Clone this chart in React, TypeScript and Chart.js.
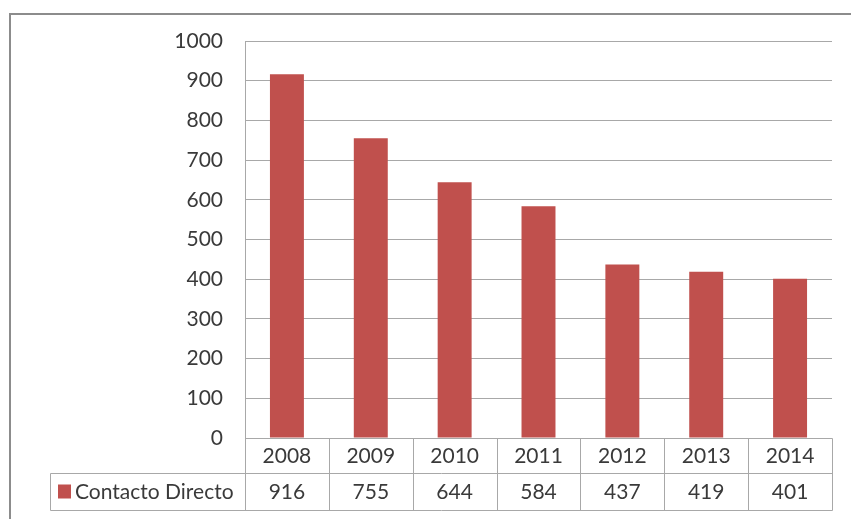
import { useEffect, useRef } from 'react';
import { Chart, registerables } from 'chart.js';

Chart.register(...registerables);

const categories = ['2008', '2009', '2010', '2011', '2012', '2013', '2014'];
const seriesName = 'Contacto Directo';
const values = [916, 755, 644, 584, 437, 419, 401];
const yMin = 0;
const yMax = 1000;
const yStep = 100;

const FONT = 'Lato, "Liberation Sans", sans-serif';
const FONT_SIZE = 21;
const TEXT = '#3a3a3a';
const GRID = '#a8a8a8';
const BAR = '#C0504D';
const FRAME = '#8c8c8c';

const tablePlugin = {
  id: 'dataTable',
  beforeDraw(chart: any) {
    const { ctx } = chart;
    ctx.save();
    ctx.fillStyle = '#ffffff';
    ctx.fillRect(0, 0, chart.width, chart.height);
    ctx.strokeStyle = FRAME;
    ctx.lineWidth = 2;
    ctx.beginPath();
    ctx.moveTo(10, chart.height + 5);
    ctx.lineTo(10, 14);
    ctx.lineTo(chart.width + 5, 14);
    ctx.stroke();
    ctx.restore();
  },
  afterDraw(chart: any) {
    const { ctx, chartArea, scales } = chart;
    const xs = scales.x;
    const n = categories.length;
    const colW = (chartArea.right - chartArea.left) / n;
    const r0 = chartArea.bottom;
    const r1 = r0 + 35;
    const r2 = r1 + 37;
    const labelLeft = 50;
    ctx.save();
    ctx.strokeStyle = GRID;
    ctx.lineWidth = 1;
    const line = (x1: number, y1: number, x2: number, y2: number) => {
      ctx.beginPath();
      ctx.moveTo(Math.round(x1) + 0.5, Math.round(y1) + 0.5);
      ctx.lineTo(Math.round(x2) + 0.5, Math.round(y2) + 0.5);
      ctx.stroke();
    };
    line(chartArea.left, r0, chartArea.right, r0);
    line(labelLeft, r1, chartArea.right, r1);
    line(labelLeft, r2, chartArea.right, r2);
    line(labelLeft, r1, labelLeft, r2);
    for (let i = 0; i < n; i++) {
      const c = xs.getPixelForValue(i);
      line(c - colW / 2, r0, c - colW / 2, r2);
    }
    line(chartArea.right, r0, chartArea.right, r2);

    ctx.fillStyle = TEXT;
    ctx.font = `${FONT_SIZE}px ${FONT}`;
    ctx.textAlign = 'center';
    ctx.textBaseline = 'middle';
    for (let i = 0; i < n; i++) {
      const c = xs.getPixelForValue(i);
      ctx.fillText(categories[i], c, (r0 + r1) / 2 + 1);
      ctx.fillText(String(values[i]), c, (r1 + r2) / 2 + 1);
    }
    ctx.fillStyle = BAR;
    ctx.fillRect(58, (r1 + r2) / 2 - 7, 13, 14);
    ctx.fillStyle = TEXT;
    ctx.textAlign = 'left';
    ctx.fillText(seriesName, 75, (r1 + r2) / 2 + 1);
    ctx.restore();
  },
};

export default function App() {
  const ref = useRef<HTMLCanvasElement | null>(null);
  useEffect(() => {
    if (!ref.current) return;
    const chart = new Chart(ref.current, {
      type: 'bar',
      data: {
        labels: categories,
        datasets: [
          {
            label: seriesName,
            data: values,
            backgroundColor: BAR,
            borderWidth: 0,
            categoryPercentage: 1,
            barPercentage: 0.405,
          },
        ],
      },
      options: {
        animation: false,
        responsive: false,
        maintainAspectRatio: false,
        layout: { padding: { left: 0, right: 19, top: 41, bottom: 81 } },
        plugins: { legend: { display: false }, tooltip: { enabled: false } },
        scales: {
          x: { display: false, offset: true },
          y: {
            min: yMin,
            max: yMax,
            ticks: {
              stepSize: yStep,
              color: TEXT,
              font: { family: FONT, size: FONT_SIZE },
              padding: 22,
              callback: (v: any) => String(v),
            },
            grid: { color: GRID, drawTicks: false },
            border: { display: true, color: GRID },
            afterFit(scale: any) {
              scale.width = 245;
            },
          },
        },
      },
      plugins: [tablePlugin],
    });
    return () => chart.destroy();
  }, []);
  return (
    <div style={{ position: 'fixed', left: 0, top: 0, width: 851, height: 519, background: '#fff' }}>
      <canvas ref={ref} width={851} height={519} style={{ display: 'block' }} />
    </div>
  );
}
